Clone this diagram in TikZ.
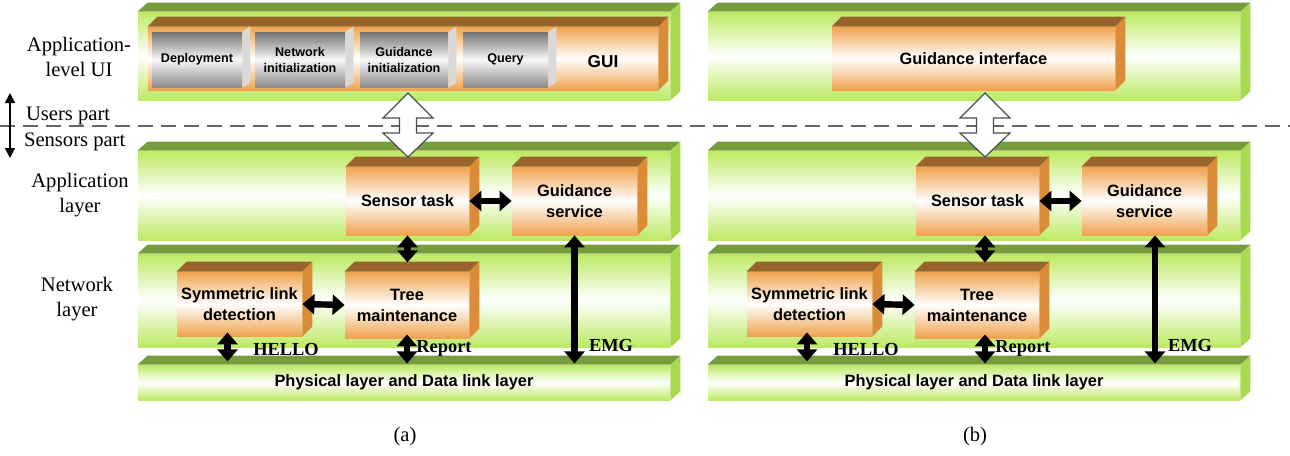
\documentclass[tikz,border=0pt]{standalone}
\usepackage{fontspec}
\setmainfont{Liberation Serif}
\setsansfont{Liberation Sans}
\usetikzlibrary{arrows.meta,calc}

\definecolor{lgreen}{RGB}{188,234,98}
\definecolor{dgreen}{RGB}{118,156,62}
\definecolor{sgreen}{RGB}{168,218,80}
\definecolor{orng}{RGB}{240,163,78}
\definecolor{brwn}{RGB}{152,100,44}
\definecolor{sorng}{RGB}{218,140,56}

\tikzset{
 slab/.style={minimum width=266pt,inner sep=0pt,top color=lgreen,bottom color=lgreen,middle color=white},
 obox/.style={inner sep=0pt,top color=orng,bottom color=orng,middle color=white,align=center,font=\sffamily\bfseries\fontsize{8.2}{10.5}\selectfont},
 gbtn/.style={inner sep=0pt,minimum height=27.5pt,top color=black!55,bottom color=black!45,middle color=black!3,align=center,font=\sffamily\bfseries\fontsize{6.3}{8}\selectfont},
 lbl/.style={align=center,font=\fontsize{10.3}{12.5}\selectfont},
 msg/.style={font=\bfseries\fontsize{9.2}{11}\selectfont},
 dbl/.style={{Triangle[width=10pt,length=6pt]}-{Triangle[width=10pt,length=6pt]},line width=3.2pt},
 hollow/.style={fill=white,draw=black!70,line width=0.6pt},
}

\begin{document}
\begin{tikzpicture}[x=0.5pt,y=-0.5pt]
\useasboundingbox (0,0) rectangle (1290,455);
% layers, (a) left and (b) right
\node[slab,minimum height=44pt] (uia) at (404,56) {};
\node[slab,minimum height=44.5pt] (appa) at (404,195.5) {};
\node[slab,minimum height=46.5pt] (neta) at (404,300.5) {};
\node[slab,minimum height=17.5pt,font=\sffamily\bfseries\fontsize{8.2}{10}\selectfont] (phya) at (404,382.5) {Physical layer and Data link layer};
\node[slab,minimum height=44pt] (uib) at (974,56) {};
\node[slab,minimum height=44.5pt] (appb) at (974,195.5) {};
\node[slab,minimum height=46.5pt] (netb) at (974,300.5) {};
\node[slab,minimum height=17.5pt,font=\sffamily\bfseries\fontsize{8.2}{10}\selectfont] (phyb) at (974,382.5) {Physical layer and Data link layer};
\foreach \n in {uia,appa,neta,phya,uib,appb,netb,phyb}{
  \fill[dgreen] (\n.north west) -- ++(10,-9) -- ([shift={(10,-9)}]\n.north east) -- (\n.north east) -- cycle;
  \fill[sgreen] (\n.north east) -- ++(10,-9) -- ([shift={(10,-9)}]\n.south east) -- (\n.south east) -- cycle;
}
% separation users / sensors
\coordinate (dl) at (0,126);
\coordinate (dr) at (1290,126);
\draw[black!60,line width=1pt,dash pattern=on 7.5pt off 4pt] (dl) -- (dr);
% boxes
\node[obox,minimum width=255pt,minimum height=31.5pt] (gui) at (403,58.5) {};
\node[obox,minimum width=61.5pt,minimum height=34pt] (taska) at (407.5,201) {Sensor task};
\node[obox,minimum width=62.5pt,minimum height=34pt] (svca) at (574.5,201) {Guidance\\service};
\node[obox,minimum width=62.5pt,minimum height=32pt] (syma) at (239.5,304) {Symmetric link\\detection};
\node[obox,minimum width=62pt,minimum height=33pt] (treea) at (407,305) {Tree\\maintenance};
\node[obox,minimum width=141.5pt,minimum height=31.5pt] (intf) at (973.5,58.5) {Guidance interface};
\node[obox,minimum width=61.5pt,minimum height=34pt] (taskb) at (977.5,201) {Sensor task};
\node[obox,minimum width=62.5pt,minimum height=34pt] (svcb) at (1144.5,201) {Guidance\\service};
\node[obox,minimum width=62.5pt,minimum height=32pt] (symb) at (809.5,304) {Symmetric link\\detection};
\node[obox,minimum width=62pt,minimum height=33pt] (treeb) at (977,305) {Tree\\maintenance};
\foreach \n in {gui,taska,svca,syma,treea,intf,taskb,svcb,symb,treeb}{
  \fill[brwn] (\n.north west) -- ++(10,-10) -- ([shift={(10,-10)}]\n.north east) -- (\n.north east) -- cycle;
  \fill[sorng] (\n.north east) -- ++(10,-10) -- ([shift={(10,-10)}]\n.south east) -- (\n.south east) -- cycle;
}
\node[font=\sffamily\bfseries\fontsize{8.6}{10}\selectfont] (guitxt) at (603,62) {GUI};
% GUI buttons
\node[gbtn,minimum width=45pt] (depl) at (197,59.5) {Deployment};
\node[gbtn,minimum width=45pt] (netini) at (300,59.5) {Network\\initialization};
\node[gbtn,minimum width=44pt] (gdini) at (404,59.5) {Guidance\\initialization};
\node[gbtn,minimum width=42.5pt] (query) at (505.5,59.5) {Query};
\foreach \n in {depl,netini,gdini,query}{
  \fill[black!15] (\n.north east) -- ++(8,-5) -- ([shift={(8,-5)}]\n.south east) -- (\n.south east) -- cycle;
}
% hollow arrows across the users/sensors border
\coordinate (hta) at (408,93);
\coordinate (htb) at (985,93);
\foreach \t in {hta,htb}{
  \draw[hollow] (\t) -- ++(25,25) -- ++(-16.5,0) -- ++(0,15) -- ++(16.5,0) -- ++(-25,24)
    -- ++(-25,-24) -- ++(16.5,0) -- ++(0,-15) -- ++(-16.5,0) -- cycle;
}
% message arrows (a)
\draw[dbl] (taska.east) -- (svca.west);
\draw[dbl] (taska.south) -- ++(0,27);
\draw[dbl] (syma.east) -- (treea.west);
\draw[dbl] ([xshift=-6pt,yshift=2pt]syma.south) -- ++(0,29);
\draw[dbl] ([yshift=2pt]treea.south) -- ++(0,29);
\draw[dbl] (svca.south) -- ++(0,128);
\node[msg] (helloa) at (286,349) {HELLO};
\node[msg] (repa) at (444,348) {Report};
\node[msg] (emga) at (611,345) {EMG};
% message arrows (b)
\draw[dbl] (taskb.east) -- (svcb.west);
\draw[dbl] ([xshift=3.75pt]taskb.south) -- ++(0,27);
\draw[dbl] (symb.east) -- (treeb.west);
\draw[dbl] ([xshift=-1.25pt,yshift=2pt]symb.south) -- ++(0,29);
\draw[dbl] ([xshift=4pt,yshift=2pt]treeb.south) -- ++(0,29);
\draw[dbl] ([xshift=5.25pt]svcb.south) -- ++(0,128);
\node[msg] (hellob) at (866,349) {HELLO};
\node[msg] (repb) at (1023,348) {Report};
\node[msg] (emgb) at (1190,345) {EMG};
% left labels
\node[lbl] (uilbl) at (79,57) {Application-\\level UI};
\node[lbl] (applbl) at (80,195) {Application\\layer};
\node[lbl] (netlbl) at (77,299) {Network\\layer};
\node[lbl,anchor=west] (usr) at (19,116) {Users part};
\node[lbl,anchor=west] (sns) at (17,142) {Sensors part};
\coordinate (upe) at (10,93);
\coordinate (dne) at (10,158);
\draw[{Triangle[width=5pt,length=5pt]}-{Triangle[width=5pt,length=5pt]},line width=0.7pt] (upe) -- (dne);
\node[lbl] (capa) at (405,437) {(a)};
\node[lbl] (capb) at (975,437) {(b)};
\end{tikzpicture}
\end{document}
